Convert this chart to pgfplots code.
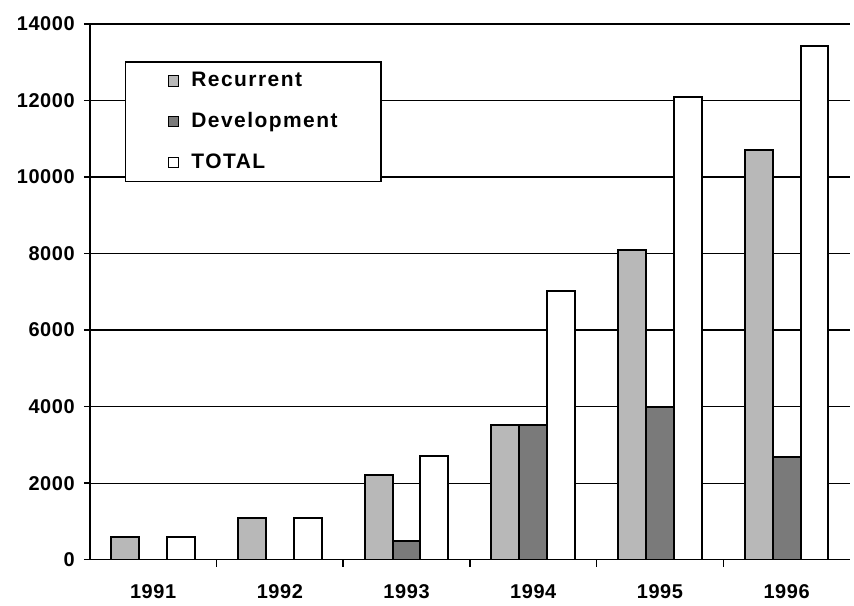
\documentclass[border=0pt]{standalone}
\usepackage{fontspec}
\setmainfont{Liberation Sans}
\newfontfamily\legfont{Liberation Sans}[LetterSpace=7]
\newfontfamily\tickfont{Liberation Sans}[LetterSpace=3]
\usepackage{pgfplots}
\pgfplotsset{compat=1.18}
\definecolor{recur}{gray}{0.72}
\definecolor{devel}{gray}{0.48}
\begin{document}
\begin{tikzpicture}
\begin{axis}[
  scale only axis,
  width=381pt, height=268.5pt,
  xmin=0.5, xmax=6.5, ymin=0, ymax=14000,
  axis lines=left,
  axis line style={-, line width=0.8pt},
  ybar=0pt, bar width=0.22,
  every axis plot post/.append style={legend image code/.code={\path (0pt,0pt); \draw[##1,line width=0.6pt] (11pt,-2.6pt) rectangle (16.2pt,2.6pt);}},
  ytick={0,2000,...,14000},
  scaled y ticks=false,
  ymajorgrids, grid style={black, line width=0.6pt},
  xtick={1,2,3,4,5,6}, xticklabels={1991,1992,1993,1994,1995,1996},
  minor xtick={1.5,2.5,3.5,4.5,5.5},
  tick align=outside,
  major x tick style={draw=none},
  minor x tick style={black, line width=0.7pt},
  minor tick length=3.5pt,
  major tick length=3pt,
  y tick style={black, line width=0.7pt},
  xticklabel style={yshift=-6pt},
  yticklabel style={xshift=-1pt},
  /pgf/number format/1000 sep={},
  /pgf/number format/assume math mode=true,
  ticklabel style={font=\tickfont\bfseries\fontsize{10}{12}\selectfont},
  legend cell align=left,
  legend style={at={(0.046,0.93)}, anchor=north west, draw=black, line width=0.8pt, fill=white,
    inner xsep=10pt, inner ysep=3pt, row sep=7.5pt,
    font=\legfont\bfseries\fontsize{10.5}{12}\selectfont,
    nodes={text width=79pt, align=left, inner ysep=2pt, inner xsep=6pt}},
]
\addplot[draw=black, line width=1pt, fill=recur] coordinates {(1,600) (2,1090) (3,2210) (4,3530) (5,8100) (6,10700)};
\addplot[draw=black, line width=1pt, fill=devel] coordinates {(1,0) (2,0) (3,490) (4,3530) (5,4000) (6,2690)};
\addplot[draw=black, line width=1pt, fill=white] coordinates {(1,600) (2,1090) (3,2720) (4,7010) (5,12100) (6,13420)};
\legend{Recurrent,Development,TOTAL}
\end{axis}
\path ([xshift=-45pt,yshift=-19.5pt]current axis.south west) rectangle ([xshift=2pt,yshift=12pt]current axis.north east);
\end{tikzpicture}
\end{document}
